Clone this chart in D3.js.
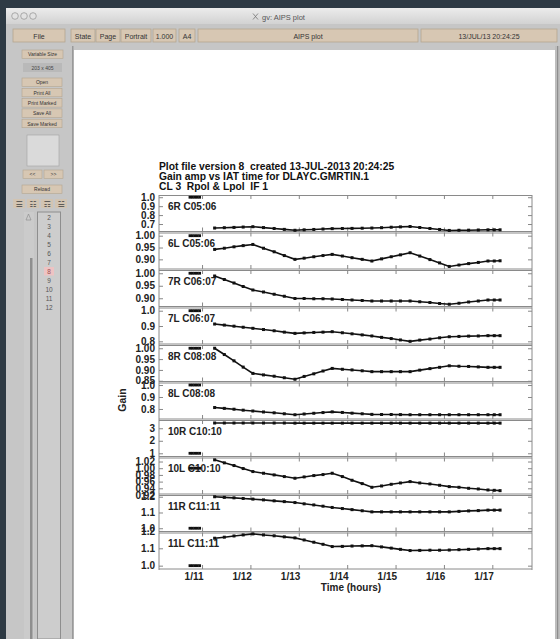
<!DOCTYPE html>
<html>
<head>
<meta charset="utf-8">
<script src="https://cdn.jsdelivr.net/npm/d3@7"></script>
<style>
	body { margin: 0; background: #2e3a44; overflow: hidden; }
	svg { display: block; }
</style>
</head>
<body>
<div class="chart"></div>
<script>
// sample times (hours of day 1) of the CL table entries
let times = [11.25, 11.45, 11.65, 11.84, 12.04, 12.26, 12.48, 12.69, 12.91, 13.10, 13.30, 13.49, 13.68, 13.89, 14.09, 14.30,
	14.50, 14.70, 14.90, 15.09, 15.29, 15.49, 15.70, 15.90, 16.10, 16.30, 16.50, 16.70, 16.90, 17.03, 17.15];
// reference entries at gain 1
let refTimes = [10.74, 10.79, 10.84, 10.89, 10.94];
let refGain = 1.0;

let panelNames = ['6R C05:06', '6L C05:06', '7R C06:07', '7L C06:07', '8R C08:08', '8L C08:08', '10R C10:10', '10L C10:10', '11R C11:11', '11L C11:11'];

let gain6R = [0.655, 0.659, 0.662, 0.666, 0.670, 0.660, 0.650, 0.640, 0.630, 0.635, 0.639, 0.644, 0.648, 0.650, 0.651, 0.653,
	0.655, 0.659, 0.664, 0.668, 0.672, 0.661, 0.650, 0.639, 0.628, 0.630, 0.631, 0.633, 0.635, 0.635, 0.635];
let gain6L = [0.942, 0.947, 0.953, 0.958, 0.963, 0.947, 0.932, 0.916, 0.900, 0.905, 0.911, 0.916, 0.921, 0.914, 0.907, 0.900,
	0.893, 0.902, 0.911, 0.919, 0.928, 0.914, 0.899, 0.885, 0.870, 0.876, 0.882, 0.887, 0.893, 0.893, 0.894];
let gain7R = [0.989, 0.975, 0.961, 0.947, 0.933, 0.925, 0.916, 0.908, 0.899, 0.899, 0.898, 0.898, 0.897, 0.895, 0.893, 0.891,
	0.889, 0.889, 0.889, 0.889, 0.889, 0.886, 0.883, 0.879, 0.876, 0.880, 0.885, 0.889, 0.893, 0.893, 0.893];
let gain7L = [0.913, 0.906, 0.899, 0.892, 0.885, 0.877, 0.869, 0.860, 0.852, 0.855, 0.858, 0.860, 0.863, 0.856, 0.849, 0.842,
	0.835, 0.826, 0.818, 0.809, 0.800, 0.808, 0.815, 0.823, 0.830, 0.832, 0.834, 0.835, 0.837, 0.837, 0.837];
let gain8R = [1.000, 0.971, 0.942, 0.913, 0.884, 0.877, 0.871, 0.864, 0.857, 0.870, 0.882, 0.895, 0.907, 0.903, 0.900, 0.896,
	0.892, 0.892, 0.892, 0.892, 0.892, 0.899, 0.906, 0.912, 0.919, 0.917, 0.916, 0.914, 0.912, 0.912, 0.912];
let gain8L = [0.812, 0.805, 0.798, 0.790, 0.783, 0.775, 0.768, 0.760, 0.752, 0.758, 0.764, 0.770, 0.776, 0.771, 0.765, 0.760,
	0.755, 0.754, 0.754, 0.753, 0.752, 0.752, 0.752, 0.752, 0.752, 0.752, 0.752, 0.752, 0.752, 0.752, 0.752];
let gain10R = [3.42, 3.42, 3.42, 3.42, 3.42, 3.42, 3.42, 3.42, 3.41, 3.41, 3.41, 3.41, 3.41, 3.41, 3.41, 3.41,
	3.41, 3.41, 3.41, 3.41, 3.41, 3.41, 3.41, 3.41, 3.41, 3.41, 3.41, 3.41, 3.41, 3.41, 3.41];
let gain10L = [1.025, 1.016, 1.008, 0.999, 0.990, 0.985, 0.980, 0.975, 0.970, 0.974, 0.978, 0.981, 0.985, 0.975, 0.964, 0.954,
	0.943, 0.947, 0.952, 0.956, 0.960, 0.956, 0.953, 0.949, 0.945, 0.943, 0.940, 0.938, 0.935, 0.934, 0.933];
let gain11R = [1.200, 1.196, 1.193, 1.189, 1.185, 1.180, 1.174, 1.169, 1.163, 1.155, 1.148, 1.140, 1.132, 1.125, 1.118, 1.111,
	1.104, 1.104, 1.104, 1.104, 1.104, 1.104, 1.104, 1.104, 1.104, 1.107, 1.110, 1.112, 1.115, 1.115, 1.115];
let gain11L = [1.158, 1.164, 1.171, 1.177, 1.183, 1.177, 1.172, 1.166, 1.160, 1.148, 1.135, 1.123, 1.110, 1.111, 1.113, 1.114,
	1.115, 1.108, 1.101, 1.094, 1.087, 1.088, 1.089, 1.089, 1.090, 1.092, 1.094, 1.096, 1.098, 1.098, 1.098];

let gains = [gain6R, gain6L, gain7R, gain7L, gain8R, gain8L, gain10R, gain10L, gain11R, gain11L];

// y ranges and tick labels of each panel
let yDomains = [[0.605, 1.025], [0.855, 1.0135], [0.863, 1.013], [0.776, 1.021], [0.842, 1.015],
	[0.708, 1.021], [0.664, 3.66], [0.92, 1.032], [0.973, 1.211], [0.975, 1.191]];
let yTickLabels = [
	['0.7', '0.8', '0.9', '1.0'],
	['0.90', '0.95', '1.00'],
	['0.90', '0.95', '1.00'],
	['0.8', '0.9', '1.0'],
	['0.85', '0.90', '0.95', '1.00'],
	['0.8', '0.9', '1.0'],
	['1', '2', '3'],
	['0.92', '0.94', '0.96', '0.98', '1.00', '1.02'],
	['1.0', '1.1', '1.2'],
	['1.0', '1.1', '1.2']
];

let xTickHours = [11, 12, 13, 14, 15, 16, 17];
let xTickLabels = ['1/11', '1/12', '1/13', '1/14', '1/15', '1/16', '1/17'];

let titleLines = ['Plot file version 8  created 13-JUL-2013 20:24:25', 'Gain amp vs IAT time for DLAYC.GMRTIN.1', 'CL 3  Rpol & Lpol  IF 1'];

let pageNumbers = ['2', '3', '4', '5', '6', '7', '8', '9', '10', '11', '12'];
let sideButtons = ['Open', 'Print All', 'Print Marked', 'Save All', 'Save Marked'];

let w = 560;
let h = 639;
let font = 'Liberation Sans, Arial, Helvetica, sans-serif';

let svg = d3.select('.chart').append('svg').attr('width', w).attr('height', h);

// ---------- gv window ----------
svg.append('rect').attr('x', 6).attr('y', 8).attr('width', w - 6).attr('height', h - 8).attr('fill', '#c6c6c6');

// title bar
let tbGrad = svg.append('defs').append('linearGradient').attr('id', 'tb').attr('x1', 0).attr('y1', 0).attr('x2', 0).attr('y2', 1);
tbGrad.append('stop').attr('offset', 0).attr('stop-color', '#ececec');
tbGrad.append('stop').attr('offset', 1).attr('stop-color', '#d2d2d2');
svg.append('rect').attr('x', 6).attr('y', 8).attr('width', w - 6).attr('height', 16).attr('fill', 'url(#tb)');
[15, 24, 33].forEach(function(cx) {
	svg.append('circle').attr('cx', cx).attr('cy', 16).attr('r', 3.3).attr('fill', '#e2e2e2').attr('stroke', '#9a9a9a').attr('stroke-width', 0.8);
});
svg.append('text').attr('x', 262).attr('y', 19.5).attr('font-family', font)
	.attr('font-size', '7.5px').attr('fill', '#555').text('gv: AIPS plot');
svg.append('path').attr('d', 'M253,13.5 L258,19.5 M258,13.5 L253,19.5').attr('stroke', '#777').attr('stroke-width', 0.8);

// toolbar buttons
let toolbar = [
	{ x: 13, w: 52, t: 'File' },
	{ x: 71, w: 24, t: 'State' },
	{ x: 96, w: 24, t: 'Page' },
	{ x: 121, w: 30, t: 'Portrait' },
	{ x: 153, w: 23, t: '1.000' },
	{ x: 179, w: 16, t: 'A4' },
	{ x: 198, w: 220, t: 'AIPS plot' },
	{ x: 421, w: 136, t: '13/JUL/13 20:24:25' }
];
toolbar.forEach(function(b) {
	svg.append('rect').attr('x', b.x).attr('y', 29).attr('width', b.w).attr('height', 13)
		.attr('fill', '#d7c7b3').attr('stroke', '#b3a590').attr('stroke-width', 0.8);
	svg.append('text').attr('x', b.x + b.w / 2).attr('y', 38.5).attr('text-anchor', 'middle').attr('font-family', font)
		.attr('font-size', '7px').attr('fill', '#333').text(b.t);
});

// left panel
function sideButton(y, label, x0, bw) {
	svg.append('rect').attr('x', x0).attr('y', y).attr('width', bw).attr('height', 8.5)
		.attr('fill', '#d7c7b3').attr('stroke', '#b3a590').attr('stroke-width', 0.6);
	svg.append('text').attr('x', x0 + bw / 2).attr('y', y + 6.3).attr('text-anchor', 'middle').attr('font-family', font)
		.attr('font-size', '5px').attr('fill', '#333').text(label);
}
sideButton(50, 'Variable Size', 22, 41);
svg.append('rect').attr('x', 23).attr('y', 63).attr('width', 39).attr('height', 9).attr('fill', '#b9b9b9');
svg.append('text').attr('x', 42.5).attr('y', 69.7).attr('text-anchor', 'middle').attr('font-family', font)
	.attr('font-size', '5px').attr('fill', '#444').text('203 x 405');
sideButtons.forEach(function(t, i) {
	sideButton(78 + i * 10.3, t, 22, 40);
});
svg.append('rect').attr('x', 27).attr('y', 135).attr('width', 32).attr('height', 31).attr('fill', '#dadada').attr('stroke', '#a8a8a8').attr('stroke-width', 0.7);
sideButton(170, '<<', 23, 19);
sideButton(170, '>>', 44, 19);
sideButton(185, 'Reload', 22, 40);
['\u2630', '\u2637', '\u2636', '\u2631'].forEach(function(t, i) {
	svg.append('rect').attr('x', 13 + i * 14).attr('y', 199).attr('width', 12).attr('height', 9).attr('fill', '#d2c4b2');
	svg.append('text').attr('x', 19 + i * 14).attr('y', 206.5).attr('text-anchor', 'middle').attr('font-family', 'DejaVu Sans')
		.attr('font-size', '8px').attr('fill', '#444').text(t);
});
// scrollbar + page list
svg.append('rect').attr('x', 24).attr('y', 212).attr('width', 10).attr('height', h - 212).attr('fill', '#cbcbcb');
svg.append('path').attr('d', 'M28.5,214 L26,220 L31,220 Z').attr('fill', 'none').attr('stroke', '#888').attr('stroke-width', 0.6);
svg.append('rect').attr('x', 30).attr('y', 258).attr('width', 2.5).attr('height', h - 258).attr('fill', '#8e8e8e');
svg.append('rect').attr('x', 37.5).attr('y', 212).attr('width', 23).attr('height', h - 212).attr('fill', '#cdcdcd').attr('stroke', '#8e8e8e').attr('stroke-width', 1);
svg.append('rect').attr('x', 44).attr('y', 267).attr('width', 10).attr('height', 8.5).attr('fill', '#eec3c3');
pageNumbers.forEach(function(t, i) {
	svg.append('text').attr('x', 49).attr('y', 219.5 + i * 9).attr('text-anchor', 'middle').attr('font-family', font)
		.attr('font-size', '6.5px').attr('fill', t === '8' ? '#a05050' : '#555').text(t);
});
svg.append('rect').attr('x', 72).attr('y', 46).attr('width', 1.5).attr('height', h - 46).attr('fill', '#9a9a9a');

// page
svg.append('rect').attr('x', 74).attr('y', 50).attr('width', 481).attr('height', h - 50).attr('fill', '#fff');
svg.append('rect').attr('x', 555).attr('y', 46).attr('width', 5).attr('height', h - 46).attr('fill', '#bdbdbd');
svg.append('rect').attr('x', 557).attr('y', 46).attr('width', 1.2).attr('height', h - 46).attr('fill', '#8e8e8e');

// ---------- AIPS plot ----------
let plotLeft = 159;
let plotRight = 532;
let plotTop = 195;
let panelH = 37.5;

let xScale = d3.scaleLinear().domain([10.1, 17.81]).range([plotLeft, plotRight]);

// title
titleLines.forEach(function(t, i) {
	svg.append('text').attr('x', plotLeft).attr('y', 169.8 + i * 10).attr('font-family', font).attr('font-weight', 'bold')
		.attr('font-size', '10.3px').attr('fill', '#111').style('white-space', 'pre').text(t);
});

let gainLine = d3.line().x((d) => xScale(d[0])).y((d) => d[1]);

gains.forEach(function(series, p) {
	let y0 = plotTop + p * panelH;
	let yScale = d3.scaleLinear().domain(yDomains[p]).range([y0 + panelH, y0]);
	let g = svg.append('g').attr('class', 'panel');

	// frame lines (double at the joins)
	g.append('line').attr('x1', plotLeft).attr('x2', plotRight).attr('y1', y0 + 0.5).attr('y2', y0 + 0.5).attr('stroke', '#8a8a8a');
	g.append('line').attr('x1', plotLeft).attr('x2', plotRight).attr('y1', y0 + panelH - 1).attr('y2', y0 + panelH - 1).attr('stroke', '#8a8a8a');
	g.append('line').attr('x1', plotLeft).attr('x2', plotLeft).attr('y1', y0).attr('y2', y0 + panelH).attr('stroke', '#8a8a8a');
	g.append('line').attr('x1', plotRight).attr('x2', plotRight).attr('y1', y0).attr('y2', y0 + panelH).attr('stroke', '#8a8a8a');

	// x ticks top and bottom
	xTickHours.forEach(function(t) {
		g.append('line').attr('x1', xScale(t)).attr('x2', xScale(t)).attr('y1', y0).attr('y2', y0 + 4).attr('stroke', '#888');
		g.append('line').attr('x1', xScale(t)).attr('x2', xScale(t)).attr('y1', y0 + panelH - 5).attr('y2', y0 + panelH - 1).attr('stroke', '#888');
	});

	// y axis left with labels, mirrored ticks on right
	let yVals = yTickLabels[p].map((s) => +s);
	g.append('g')
		.attr('transform', 'translate(' + plotLeft + ',0)')
		.call(d3.axisLeft(yScale).tickValues(yVals).tickSize(-4).tickPadding(4).tickFormat((d, i) => yTickLabels[p][i]))
		.call((a) => a.select('.domain').remove())
		.call((a) => a.selectAll('line').attr('stroke', '#888'))
		.call((a) => a.selectAll('text').attr('font-family', font).attr('font-weight', 'bold').attr('font-size', '10px').attr('fill', '#222'));
	g.append('g')
		.attr('transform', 'translate(' + plotRight + ',0)')
		.call(d3.axisRight(yScale).tickValues(yVals).tickSize(-4).tickFormat(''))
		.call((a) => a.select('.domain').remove())
		.call((a) => a.selectAll('line').attr('stroke', '#888'));

	// panel label
	g.append('text').attr('x', 168).attr('y', y0 + 14.5).attr('font-family', font).attr('font-weight', 'bold')
		.attr('font-size', '10px').attr('fill', '#222').text(panelNames[p]);

	// reference points at gain 1
	g.selectAll('rect.ref').data(refTimes).enter().append('rect').attr('class', 'ref')
		.attr('x', (d) => xScale(d) - 1.4).attr('y', yScale(refGain) - 1.4).attr('width', 2.8).attr('height', 2.8).attr('fill', '#111');

	// solution line and points
	let pts = times.map((t, i) => [t, yScale(series[i])]);
	g.append('path').attr('d', gainLine(pts)).attr('fill', 'none').attr('stroke', '#111').attr('stroke-width', 1.6);
	g.selectAll('rect.pt').data(pts).enter().append('rect').attr('class', 'pt')
		.attr('x', (d) => xScale(d[0]) - 1.5).attr('y', (d) => d[1] - 1.5).attr('width', 3).attr('height', 3).attr('fill', '#111');
});

// x tick labels
let plotBottom = plotTop + panelH * gains.length;
svg.selectAll('text.xt').data(xTickHours).enter().append('text').attr('class', 'xt')
	.attr('x', (d) => xScale(d) + 1).attr('y', plotBottom + 10).attr('text-anchor', 'end')
	.attr('font-family', font).attr('font-weight', 'bold').attr('font-size', '10px').attr('fill', '#222')
	.text((d, i) => xTickLabels[i]);

// axis names
svg.append('text').attr('x', 351).attr('y', plotBottom + 21).attr('text-anchor', 'middle').attr('font-family', font)
	.attr('font-weight', 'bold').attr('font-size', '10px').attr('fill', '#222').text('Time (hours)');
svg.append('text').attr('transform', 'translate(126,400) rotate(-90)').attr('text-anchor', 'middle').attr('font-family', font)
	.attr('font-weight', 'bold').attr('font-size', '10.5px').attr('fill', '#222').text('Gain');
</script>
</body>
</html>
